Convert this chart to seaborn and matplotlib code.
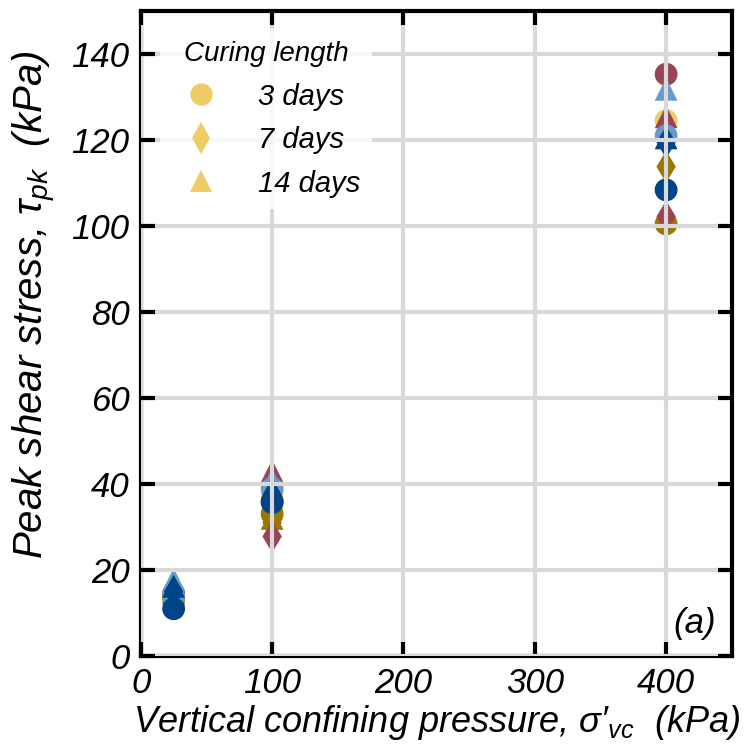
import matplotlib
matplotlib.use("Agg")
import matplotlib.pyplot as plt
from matplotlib.lines import Line2D
import pandas as pd
import seaborn as sns

# Test conditions
pressure_kpa = [25, 100, 400]
curing_lengths = ["3 days", "7 days", "14 days"]
mixes = ["Mix A", "Mix B", "Mix C", "Mix D", "Mix E"]
mix_colors = ["#EECC66", "#997700", "#994455", "#6699CC", "#004488"]
curing_markers = ["o", "d", "^"]

# Peak shear stress (kPa) at 25, 100 and 400 kPa confining pressure
mix_a_3d = [13.0, 38.0, 124.5]
mix_a_7d = [14.0, 37.0, 123.0]
mix_a_14d = [15.0, 36.5, 103.0]
mix_b_3d = [13.5, 33.0, 100.5]
mix_b_7d = [14.0, 31.0, 113.8]
mix_b_14d = [15.0, 32.0, 122.8]
mix_c_3d = [14.5, 36.0, 135.3]
mix_c_7d = [14.0, 27.8, 102.2]
mix_c_14d = [14.5, 43.0, 125.4]
mix_d_3d = [14.0, 39.0, 121.0]
mix_d_7d = [15.0, 38.0, 119.8]
mix_d_14d = [17.8, 41.0, 131.8]
mix_e_3d = [11.0, 35.7, 108.4]
mix_e_7d = [15.0, 37.5, 119.5]
mix_e_14d = [16.2, 39.0, 120.5]

series = {
    "Mix A": [mix_a_3d, mix_a_7d, mix_a_14d],
    "Mix B": [mix_b_3d, mix_b_7d, mix_b_14d],
    "Mix C": [mix_c_3d, mix_c_7d, mix_c_14d],
    "Mix D": [mix_d_3d, mix_d_7d, mix_d_14d],
    "Mix E": [mix_e_3d, mix_e_7d, mix_e_14d],
}

rows = []
for mix in mixes:
    for curing, values in zip(curing_lengths, series[mix]):
        for p, tau in zip(pressure_kpa, values):
            rows.append({"mix": mix, "curing": curing, "pressure": p, "tau": tau})
df = pd.DataFrame(rows)

sns.set_theme(style="ticks")
plt.rcParams["font.family"] = ["Liberation Sans", "DejaVu Sans"]
plt.rcParams["font.style"] = "italic"
plt.rcParams["text.color"] = "black"
plt.rcParams["mathtext.fontset"] = "custom"
plt.rcParams["mathtext.it"] = "Liberation Sans:italic"
plt.rcParams["mathtext.rm"] = "Liberation Sans:italic"
plt.rcParams["mathtext.default"] = "it"

fig = plt.figure(figsize=(7.49, 7.5), dpi=100)
ax = fig.add_axes([0.188, 0.1253, 0.789, 0.86])

sns.scatterplot(
    data=df, x="pressure", y="tau", hue="mix", style="curing",
    hue_order=mixes, style_order=curing_lengths,
    palette=mix_colors, markers=curing_markers,
    s=270, linewidth=0, legend=False, ax=ax, zorder=1,
)

ax.set_xlim(0, 450)
ax.set_ylim(0, 150)
ax.set_xticks([0, 100, 200, 300, 400])
ax.set_yticks(range(0, 141, 20))
ax.grid(True, color="#d9d9d9", linewidth=3)
ax.set_axisbelow(False)
for side in ax.spines.values():
    side.set_linewidth(3)
    side.set_color("black")
ax.tick_params(direction="in", top=True, right=True, length=10, width=3,
               labelsize=25, pad=8, color="black", labelcolor="black")

ax.set_xlabel("Vertical confining pressure, $\u03c3\u2032_{vc}$  (kPa)",
              fontsize=26, color="black")
ax.set_ylabel(r"Peak shear stress, $\tau_{pk}$  (kPa)",
              fontsize=29, color="black")
ax.xaxis.set_label_coords(0.5, -0.073)
ax.yaxis.set_label_coords(-0.140, 0.545)

ax.text(0.937, 0.05, "(a)", transform=ax.transAxes, fontsize=25,
        ha="center", va="center", color="black")

handles = [
    Line2D([], [], linestyle="none", marker=m, markersize=16,
           markerfacecolor=mix_colors[0], markeredgewidth=0)
    for m in curing_markers
]
leg = ax.legend(handles, curing_lengths, title="Curing length",
                loc="upper left", bbox_to_anchor=(0.008, 0.994),
                fontsize=21, title_fontsize=20, frameon=True,
                framealpha=0.8, edgecolor="none", facecolor="white",
                labelspacing=0.53, handletextpad=0.95, borderpad=0.4)
leg.get_title().set_style("italic")
for txt in leg.get_texts():
    txt.set_color("black")

fig.savefig("out.png", dpi=100)
